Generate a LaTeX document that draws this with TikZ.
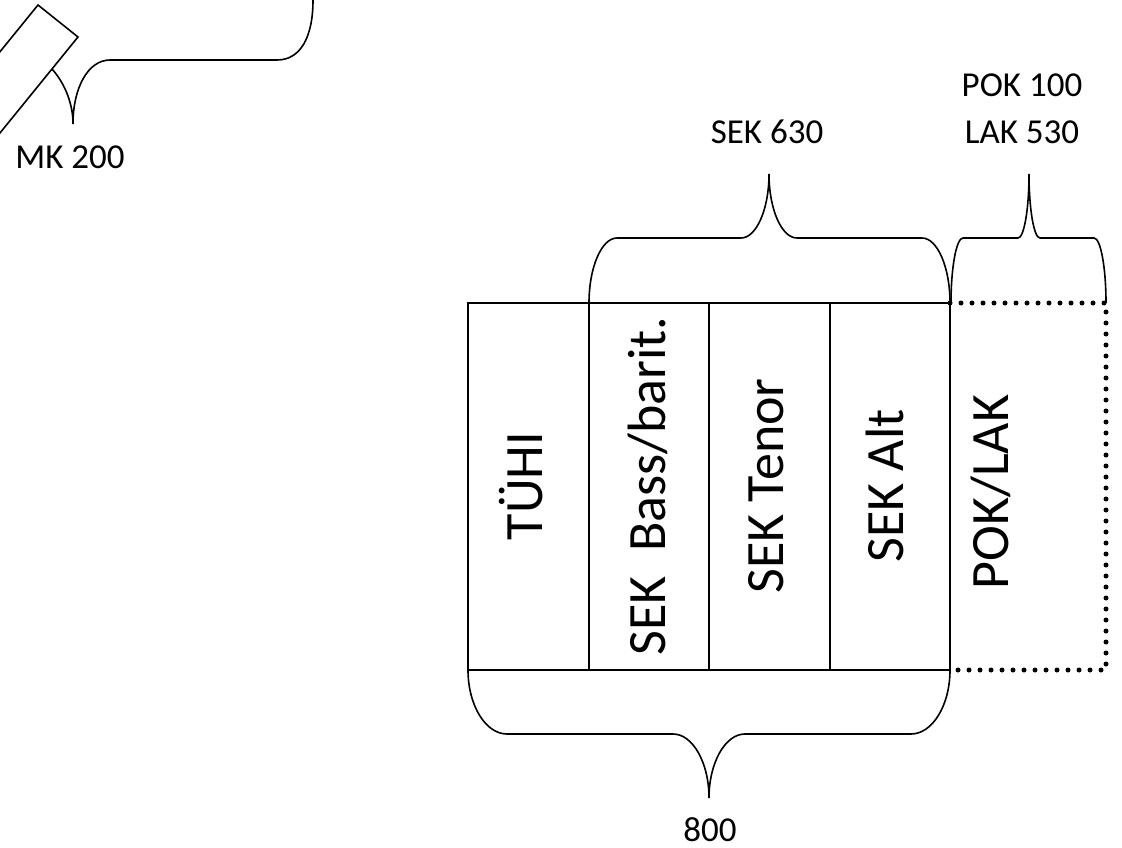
\documentclass[tikz,border=0pt]{standalone}
\usepackage{fontspec}
\setmainfont{Carlito}
\usetikzlibrary{calc}
\tikzset{
  wall/.style={line width=1.6pt},
  dotline/.style={line width=5pt, line cap=round, dash pattern=on 0pt off 11pt},
  voice/.style={rotate=90, anchor=base, inner sep=0pt, font=\fontsize{54}{60}\selectfont},
  note/.style={anchor=base, inner sep=0pt, font=\fontsize{35}{42}\selectfont},
}
% brace: left x, right x, tip x, end y, flat y, tip y, corner, tip half width
\newcommand{\wordbrace}[8]{%
  \draw[wall] (#1,#4) .. controls (#1,{#4+0.55*(#5-#4)}) and ({#1+0.45*#7},#5) .. ({#1+#7},#5)
    -- ({#3-#8},#5) .. controls ({#3-0.45*#8},#5) and (#3,{#5+0.45*(#6-#5)}) .. (#3,#6)
    .. controls (#3,{#5+0.45*(#6-#5)}) and ({#3+0.45*#8},#5) .. ({#3+#8},#5)
    -- ({#2-#7},#5) .. controls ({#2-0.45*#7},#5) and (#2,{#4+0.55*(#5-#4)}) .. (#2,#4);}

\begin{document}
\begin{tikzpicture}[x=1pt, y=-1pt]
  \useasboundingbox (0,0) rectangle (1122,848);
  \clip (0,0) rectangle (1122,848);

  % tilted box and its brace, top left
  \draw[wall] (38,5) -- (78,37) -- (-48,192) -- (-88,160) -- cycle;
  \draw[wall] (52,69) .. controls (62,80) and (73,100) .. (73,124)
    .. controls (73,88) and (88,60) .. (110,60) -- (277,60)
    .. controls (300,60) and (313,38) .. (313,0) -- (313,-10);
  \node[note] (mk) at (70,168) {MK 200};

  % voice columns
  \draw[wall] (468,303) rectangle (950,670);
  \foreach \x in {589,709,830}
    \draw[wall] (\x,303) -- (\x,670);
  \draw[dotline] (950,303) -- (1106,303) -- (1106,670) -- (950,670);

  \node[voice] (tyhi) at (542,486) {TÜHI};
  \node[voice] (bass) at (665,486) {SEK\ \ Bass/barit.};
  \node[voice] (tenor) at (783,486) {SEK Tenor};
  \node[voice] (alt) at (903,486) {SEK Alt};
  \node[voice] (poklak) at (1008,492) {POK/LAK};

  % braces
  \wordbrace{589}{950}{769}{303}{238}{174}{28}{28}
  \wordbrace{951}{1106}{1029}{303}{238}{174}{12}{11}
  \wordbrace{468}{950}{709}{670}{734}{798}{39}{36}

  \node[note] (sek) at (767,144) {SEK 630};
  \node[note] (pok) at (1022,97) {POK 100};
  \node[note] (lak) at (1022,144) {LAK 530};
  \node[note] (total) at (710,841) {800};
\end{tikzpicture}
\end{document}
